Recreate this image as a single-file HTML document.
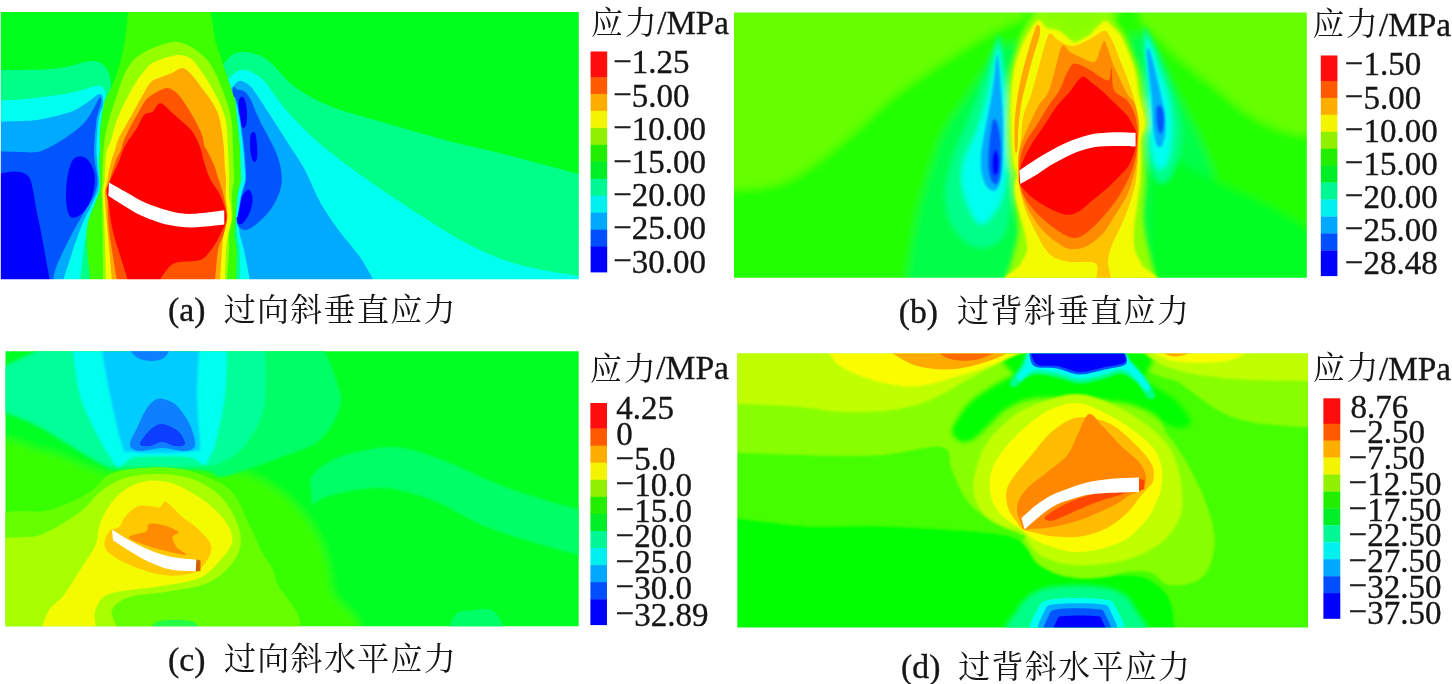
<!DOCTYPE html>
<html><head><meta charset="utf-8"><title>fig</title>
<style>
html,body{margin:0;padding:0;background:#fff;}
body{width:1452px;height:684px;overflow:hidden;position:relative;font-family:"Liberation Serif",serif;}
svg{position:absolute;left:0;top:0;display:block}
text{font-family:"Liberation Serif",serif;fill:#141414;stroke:#141414;stroke-width:0.35px}
text.cjk{font-family:"Liberation Serif","Noto Serif CJK SC",serif;stroke:none}
</style></head><body>
<svg width="1452" height="684" viewBox="0 0 1452 684">
<defs>
<filter id="b1" x="-5%" y="-5%" width="110%" height="110%"><feGaussianBlur stdDeviation="0.7"/></filter>
<filter id="b15" x="-20%" y="-20%" width="140%" height="140%"><feGaussianBlur stdDeviation="1.3"/></filter>
<filter id="b2" x="-20%" y="-20%" width="140%" height="140%"><feGaussianBlur stdDeviation="2.5"/></filter>
<filter id="b3" x="-20%" y="-20%" width="140%" height="140%"><feGaussianBlur stdDeviation="4"/></filter>
<filter id="b4" x="-30%" y="-30%" width="160%" height="160%"><feGaussianBlur stdDeviation="7"/></filter>
<filter id="bt" x="-5%" y="-5%" width="110%" height="110%"><feGaussianBlur stdDeviation="0.45"/></filter>
<clipPath id="cpa"><rect x="0.8" y="12.1" width="578.0" height="267.2"/></clipPath>
<clipPath id="cpb"><rect x="734.0" y="12.4" width="572.8" height="265.4"/></clipPath>
<clipPath id="cpc"><rect x="5.5" y="351.2" width="573.2" height="275.0"/></clipPath>
<clipPath id="cpd"><rect x="737.3" y="353.6" width="570.7" height="274.0"/></clipPath>
</defs>
<g clip-path="url(#cpa)"><g filter="url(#b1)"><rect x="-10" y="0" width="600" height="300" fill="#00ff1e"/>
<path fill="#00ff88" d="M222,66C223.7,64.2 228.7,57.3 232,55C235.3,52.7 238.2,52.2 242,52C245.8,51.8 250.3,52.3 255,54C259.7,55.7 263.3,56.5 270,62C276.7,67.5 284.7,79.5 295,87C305.3,94.5 317.5,101.2 332,107C346.5,112.8 363.2,116.5 382,122C400.8,127.5 426.2,135 445,140C463.8,145 478.3,147.8 495,152C511.7,156.2 529.2,160.8 545,165C560.8,169.2 582.5,175 590,177L600,281L222,281Z"/>
<path fill="#00fff0" d="M226,82C227.7,80.3 232.8,74 236,72C239.2,70 241.8,69.7 245,70C248.2,70.3 251.7,72 255,74C258.3,76 260.5,76.8 265,82C269.5,87.2 276.2,97.8 282,105C287.8,112.2 292.8,117.8 300,125C307.2,132.2 314.2,139.2 325,148C335.8,156.8 349.2,166.8 365,178C380.8,189.2 402.5,203.8 420,215C437.5,226.2 453.3,236.7 470,245C486.7,253.3 500,259.5 520,265C540,270.5 578.3,275.8 590,278L600,281L226,281Z"/>
<path fill="#00aaff" d="M229,92C230.2,90.5 233.8,84.8 236,83C238.2,81.2 239.7,80.5 242,81C244.3,81.5 247.5,83.7 250,86C252.5,88.3 253.7,90.2 257,95C260.3,99.8 264.8,107 270,115C275.2,123 282.2,133.8 288,143C293.8,152.2 299.7,160.2 305,170C310.3,179.8 314.2,191.7 320,202C325.8,212.3 333.3,222.8 340,232C346.7,241.2 354.3,248.8 360,257C365.7,265.2 371.7,277 374,281L250,281L247,265L244,250L239.8,235L237.4,217L229,217Z"/>
<path fill="#0055ff" d="M232,97C233,78.7 235.8,90.8 238,90C240.2,89.2 242.8,90.3 245,92C247.2,93.7 249.3,97 251,100C252.7,103 253.2,105.8 255,110C256.8,114.2 259.5,120 262,125C264.5,130 267.5,135 270,140C272.5,145 275.2,150 277,155C278.8,160 280.3,164.7 281,170C281.7,175.3 282.3,181 281,187C279.7,193 276.3,200.5 273,206C269.7,211.5 265,216.2 261,220C257,223.8 252.5,227.7 249,229C245.5,230.3 242.5,230.3 240,228C237.5,225.7 235.3,219.7 234,215C232.7,210.3 232.3,219.7 232,200C231.7,180.3 231,115.3 232,97Z"/>
<path fill="#0000ff" d="M239,100C239.7,97 241.8,96.3 243,97C244.2,97.7 245.3,100.5 246,104C246.7,107.5 247.2,114.2 247,118C246.8,121.8 246,125.7 245,127C244,128.3 242,128 241,126C240,124 239.3,119.3 239,115C238.7,110.7 238.3,103 239,100Z"/>
<path fill="#0000ff" d="M251,134C251.8,132.3 254,131.2 255,133C256,134.8 256.7,140.8 257,145C257.3,149.2 257.5,155.2 257,158C256.5,160.8 255,162.5 254,162C253,161.5 251.7,158.2 251,155C250.3,151.8 250,146.5 250,143C250,139.5 250.2,135.7 251,134Z"/>
<path fill="#0000ff" d="M247.5,190C249.2,189.2 250.7,191 251.5,193C252.3,195 252.9,198.5 252.5,202C252.1,205.5 250.6,210.5 249,214C247.4,217.5 244.8,221.5 243,223C241.2,224.5 239,224.8 238,223C237,221.2 236.7,216.2 237.2,212C237.7,207.8 239.3,201.7 241,198C242.7,194.3 245.8,190.8 247.5,190Z"/>
<path fill="#00ff88" d="M-10,70C-4.2,70 15,70.2 25,70C35,69.8 42.5,69.7 50,69C57.5,68.3 64.2,67.2 70,66C75.8,64.8 80.8,62.8 85,62C89.2,61.2 92.2,60.7 95,61C97.8,61.3 99.8,62.3 102,64C104.2,65.7 106.5,67.5 108,71C109.5,74.5 110.3,76.8 111,85C111.7,93.2 112.2,102.8 112,120C111.8,137.2 111.8,169.7 110,188C108.2,206.3 103.8,214.5 101,230C98.2,245.5 94.3,272.5 93,281L-10,281Z"/>
<path fill="#00fff0" d="M-10,101C-4.2,100.7 15,99.8 25,99C35,98.2 42.5,97 50,96C57.5,95 64.7,94 70,93C75.3,92 77.8,91.2 82,90C86.2,88.8 91.8,86.7 95,86C98.2,85.3 99.3,85.2 101,86C102.7,86.8 104.2,88.7 105,91C105.8,93.3 106.5,95.7 106,100C105.5,104.3 103,111.2 102,117C101,122.8 100.3,129.5 100,135C99.7,140.5 100.1,145.8 100,150C99.9,154.2 99.5,155 99.5,160C99.5,165 99.9,175 100,180C100.1,185 100.6,186.7 100,190C99.4,193.3 98.6,193.3 96.4,200C94.2,206.7 89.5,216.5 86.8,230C84.1,243.5 81.1,272.5 80,281L-10,281Z"/>
<path fill="#00aaff" d="M-10,122C-5,121.8 12.2,121.3 20,121C27.8,120.7 30.3,121 37,120C43.7,119 53.7,116.7 60,115C66.3,113.3 70.3,112.2 75,110C79.7,107.8 84.3,104.5 88,102C91.7,99.5 94.7,96.2 97,95C99.3,93.8 101,93.3 102,95C103,96.7 103.5,101.3 103,105C102.5,108.7 100,112 99,117C98,122 97.4,129.5 97,135C96.6,140.5 96.5,145.8 96.5,150C96.5,154.2 96.6,155 97,160C97.4,165 98.6,175 98.8,180C99,185 98.8,186.7 98,190C97.2,193.3 97,193.3 94,200C91,206.7 85.2,216.5 80,230C74.8,243.5 65.8,272.5 63,281L-10,281Z"/>
<path fill="#0055ff" d="M-10,151C-5,151.2 12.2,151.8 20,152C27.8,152.2 32,152.8 37,152C42,151.2 45.8,149 50,147C54.2,145 57.8,142.7 62,140C66.2,137.3 71.2,134 75,131C78.8,128 81.8,125.8 85,122C88.2,118.2 91.5,112.2 94,108C96.5,103.8 98.8,97.8 100,97C101.2,96.2 101.5,99.7 101,103C100.5,106.3 98,111.7 97,117C96,122.3 95.5,129.5 95,135C94.5,140.5 94.1,145.8 94,150C93.9,154.2 94.2,156.3 94.6,160C95,163.7 96,168.7 96.5,172C97,175.3 97.6,177 97.5,180C97.4,183 97,186.7 96,190C95,193.3 95.4,193.3 91.7,200C88,206.7 79.8,219.2 74,230C68.2,240.8 60.5,256.5 57,265C53.5,273.5 53.7,278.3 53,281L-10,281Z"/>
<path fill="#0000ff" d="M-10,176C-7,175.3 3,172.7 8,172C13,171.3 16.5,171.2 20,172C23.5,172.8 26.8,174 29,177C31.2,180 31.8,184.8 33,190C34.2,195.2 34.8,201.8 36,208C37.2,214.2 38.7,220.3 40,227C41.3,233.7 42.8,241.7 44,248C45.2,254.3 46,259.5 47,265C48,270.5 49.5,278.3 50,281L-10,281Z"/>
<path fill="#0000ff" d="M71.6,162C73.5,158.1 75.9,156.7 78.6,156.4C81.3,156.1 85.4,157.4 88,160C90.6,162.6 92.9,167.8 94,172C95.1,176.2 95.2,180 94.5,185C93.8,190 92.4,197 90,202C87.6,207 83.3,212.6 80,215C76.7,217.4 72.7,218.7 70.4,216.7C68.1,214.7 66.9,209.1 66.3,203C65.7,196.9 66.1,186.8 67,180C67.9,173.2 69.7,165.9 71.6,162Z"/>
<path fill="#00aaff" d="M235,97C235.4,98.2 236.8,101.5 237.5,104C238.2,106.5 238.4,108.8 239,112C239.6,115.2 240.2,117.2 241,123C241.8,128.8 243.2,140 244,147C244.8,154 245.2,159.5 245.5,165C245.8,170.5 246.6,175 246,180C245.4,185 243.4,188.8 242,195C240.6,201.2 238.5,213.3 237.8,217L230,217L230,97Z"/>
<path fill="#00fff0" d="M234,97C234.4,98.2 235.8,101.5 236.5,104C237.2,106.5 237.4,108.8 238,112C238.6,115.2 239.2,117.2 240,123C240.8,128.8 242.2,140 243,147C243.8,154 244.2,159.5 244.5,165C244.8,170.5 245.6,175 245,180C244.4,185 242.3,188.8 241,195C239.7,201.2 238,213.3 237.4,217L230,217L230,97Z"/>
<path fill="#00ff88" d="M236.5,217C236.6,220 236.7,229.5 237.2,235C237.7,240.5 239,245 239.5,250C240,255 239.9,259.8 240,265C240.1,270.2 240,278.3 240,281L230,281L230,217Z"/>
<path fill="#00ff88" d="M110,188C108.5,195 103.8,214.5 101,230C98.2,245.5 94.3,272.5 93,281L120,281L120,188Z"/>
<path fill="#3cff00" d="M129,0C128.3,6.7 126.8,28.3 125,40C123.2,51.7 120.5,61.7 118,70C115.5,78.3 112.2,85 110,90C107.8,95 106.4,95.5 105,100C103.6,104.5 102.5,111.2 101.7,117C100.9,122.8 100.3,129.5 100,135C99.7,140.5 100.1,145.8 100,150C99.9,154.2 99.3,155 99.3,160C99.3,165 99.8,175 99.9,180C100,185 100.3,186.7 99.7,190C99.1,193.3 98.6,193.3 96.4,200C94.2,206.7 87.9,216.5 86.8,230C85.7,243.5 89.5,272.5 90,281L236,281L236.6,250L234.5,235L235.7,217L237.4,195L241,180L240.5,165L240,147L237.5,123L235,100L225,70L215,40L209,0Z"/>
<path fill="#94ff00" d="M227,281C227.3,275.8 228.7,257.7 229,250C229.3,242.3 228.4,240.5 229,235C229.6,229.5 232,223.7 232.5,217C233,210.3 231.8,201.2 232,195C232.2,188.8 233.8,185 234,180C234.2,175 233.7,170.5 233.5,165C233.3,159.5 233.2,153.6 233,147C232.8,140.4 232.6,131.8 232,125.6C231.4,119.4 230.7,115.5 229.3,110C227.9,104.5 225.6,98.6 223.5,92.8C221.4,87 218.9,80.1 216.5,75C214.1,69.9 211.6,65.5 209,62C206.4,58.5 204.2,56.7 201,54C197.8,51.3 193.8,48 189.5,46C185.2,44 181.2,41.5 175.5,41.7C169.8,41.9 160.9,44.8 155,47C149.1,49.2 144,52.3 140,55C136,57.7 133.8,59.2 131,63C128.2,66.8 125.3,72.3 123,77.6C120.7,82.9 119,89.2 117,95C115,100.8 112.8,106.9 111,112.7C109.2,118.5 107.5,125.5 106.4,130C105.3,134.6 105,136.7 104.5,140C104,143.3 103.8,146.7 103.5,150C103.2,153.3 103.2,156.3 103,160C102.8,163.7 102.6,168.7 102.5,172C102.4,175.3 102.4,177 102.2,180C102,183 101.5,186.7 101.5,190C101.5,193.3 101.8,193.3 102,200C102.2,206.7 102.3,216.5 102.5,230C102.7,243.5 102.9,272.5 103,281Z"/>
<path fill="#f4fa00" d="M225,281C225.2,275.8 225.5,257.7 226,250C226.5,242.3 227.1,240.5 228,235C228.9,229.5 231.4,223.7 231.6,217C231.8,210.3 229.6,201.2 229.2,195C228.8,188.8 229.4,185 229.3,180C229.2,175 229,170.5 228.8,165C228.6,159.5 228.4,153.6 228,147C227.6,140.4 227.2,131.3 226.5,125.6C225.8,119.9 225,117.2 223.5,112.7C222,108.2 219.9,103.5 217.6,98.6C215.2,93.7 212.3,88.3 209.4,83.4C206.5,78.5 202.7,73.2 200,69.4C197.3,65.6 195.2,62.6 193,60.5C190.8,58.4 189.5,57.4 187,56.5C184.5,55.6 181.5,54.8 178,55C174.5,55.2 169.7,56.4 166,57.5C162.3,58.6 158.5,60.1 155.6,61.5C152.7,62.9 151.6,62.8 148.5,66C145.4,69.2 140.1,76.2 136.8,81C133.5,85.8 131.1,90.3 128.6,95C126.1,99.7 123.7,104.3 121.6,109C119.5,113.7 117.6,117.8 115.8,123C114,128.2 112.5,135.5 111,140C109.5,144.5 107.9,146.7 107,150C106.1,153.3 106.1,156.3 105.7,160C105.3,163.7 105,168.7 104.8,172C104.6,175.3 104.8,177 104.5,180C104.2,183 103.2,186.7 103,190C102.8,193.3 102.8,193.3 103,200C103.2,206.7 104,216.5 104.5,230C105,243.5 105.8,272.5 106,281Z"/>
<path fill="#ffaa00" d="M220,281C220.3,275.8 221.4,257.7 222,250C222.6,242.3 222.5,240.5 223.4,235C224.3,229.5 227.1,223.7 227.5,217C227.9,210.3 225.9,201.2 225.7,195C225.4,188.8 226.2,185 226,180C225.8,175 225.1,170.5 224.7,165C224.3,159.5 224.4,153.6 223.8,147C223.2,140.4 222,131.3 221,125.6C220,119.9 219.3,117 217.6,112.7C215.9,108.4 213.4,104.1 210.6,99.8C207.8,95.5 204.1,91.1 201,87C197.9,82.9 195.1,78.2 192,75C188.9,71.8 185.8,68.3 182.5,68C179.2,67.7 175.8,71.4 172,73C168.2,74.6 163.5,76.1 160,77.6C156.5,79.1 153.9,79.1 151,82C148.1,84.9 145.4,90.3 142.7,95C139.9,99.7 137.4,104.7 134.5,110C131.6,115.3 127.8,121.7 125,126.7C122.2,131.7 119.7,136.1 118,140C116.3,143.9 116.1,146.7 115,150C113.9,153.3 112.6,156.3 111.6,160C110.5,163.7 109.4,168.7 108.7,172C108,175.3 108.1,177 107.5,180C106.9,183 105.4,186.7 105,190C104.6,193.3 104.6,193.3 105,200C105.4,206.7 106.3,216.5 107.5,230C108.7,243.5 111.2,272.5 112,281Z"/>
<path fill="#ff5500" d="M215,281C215.5,275.8 216.6,257.7 218,250C219.4,242.3 221.9,240.5 223.4,235C224.9,229.5 227,223.7 227,217C227,210.3 224.8,201.2 223.4,195C222,188.8 220.4,185 218.8,180C217.2,175 216.2,170.5 214,165C211.8,159.5 207.3,151.5 205.5,147C203.7,142.5 203.9,140.8 203,138C202.1,135.2 201.5,133.2 200,130C198.5,126.8 196.2,122.4 194,118.5C191.8,114.6 189.7,110.9 187,106.8C184.3,102.7 181.1,97.1 177.8,94C174.5,90.9 171,88.2 167.3,88C163.6,87.8 159.2,90.8 155.6,92.8C152,94.8 148.8,96.7 146,99.8C143.2,102.9 141.5,107.2 139,111.5C136.5,115.8 133.5,120.8 131,125.6C128.5,130.3 125.7,135.9 124,140C122.3,144.1 122.3,146.7 121,150C119.7,153.3 117.5,156.3 116,160C114.5,163.7 113,168.7 112,172C111,175.3 110.8,177 109.8,180C108.8,183 106.4,186.7 106,190C105.6,193.3 107,193.3 107.5,200C108,206.7 107.4,216.5 109,230C110.6,243.5 115.7,272.5 117,281Z"/>
<path fill="#ff0000" d="M160,281C160.5,280 160.5,278 163,275C165.5,272 168.8,265.5 175,263C181.2,260.5 194,262.2 200,260C206,257.8 207.7,254.2 211,250C214.3,245.8 217.4,240.5 220,235C222.6,229.5 226.5,223.7 226.5,217C226.5,210.3 222.7,201.2 220,195C217.3,188.8 213.1,185 210.6,180C208.1,175 206.8,170.5 205,165C203.2,159.5 202,152.4 200,147C198,141.6 195.7,136.6 193,132.6C190.3,128.6 187.2,126.3 183.7,123C180.2,119.7 175.9,116 172,112.7C168.1,109.4 163.5,103.5 160.3,103.3C157.1,103.1 155.7,109.5 153,111.5C150.3,113.5 146.7,112.2 144,115C141.3,117.8 139.6,123.8 137,128C134.4,132.2 130.9,136.3 128.6,140C126.3,143.7 124.5,146.7 123,150C121.5,153.3 121,156.3 119.5,160C118,163.7 115.5,168.7 114,172C112.5,175.3 111.6,177 110.4,180C109.2,183 107.1,186.7 106.7,190C106.3,193.3 107,193.3 108,200C109,206.7 110.6,220.8 112.6,230C114.6,239.2 117.4,246.5 120,255C122.6,263.5 126.7,276.7 128,281Z"/>
<path fill="#ffaa00" d="M199,108C199.6,107.8 201,108.7 202,112C203,115.3 204.2,122.2 205,128C205.8,133.8 207.1,144 207,147C206.9,150 205.4,149.2 204.5,146C203.6,142.8 202.5,133.5 201.5,128C200.5,122.5 198.9,116.3 198.5,113C198.1,109.7 198.4,108.2 199,108Z"/>
<path fill="#ffffff" d="M109,182.6C112.2,184.4 121.9,190 128,193.3C134.1,196.7 138.7,199.8 145.4,202.7C152.1,205.6 161.4,208.7 168,210.5C174.6,212.3 179.2,213.4 185,213.8C190.8,214.2 196.4,213.6 203,213C209.6,212.4 220.8,210.8 224.3,210.3L224.3,224.5C220.8,224.9 209.6,226.2 203,226.7C196.4,227.2 190.8,227.6 185,227.3C179.2,227 172.7,225.7 168,224.8C163.3,223.9 161.8,223.5 157,221.8C152.2,220.1 145.3,217.7 139.5,214.8C133.7,211.9 127.2,207.7 122,204.5C116.8,201.3 110.6,197.2 108.3,195.7Z"/></g></g>
<g clip-path="url(#cpb)"><g filter="url(#b3)"><rect x="700" y="0" width="640" height="300" fill="#22ff00"/>
<path fill="#66ff00" d="M1033,-5C1031.3,-1.2 1028,12.7 1023,18C1018,23.3 1012.7,22 1003,27C993.3,32 977.5,40.5 965,48C952.5,55.5 940.5,63.5 928,72C915.5,80.5 902.5,88.8 890,99C877.5,109.2 867.5,120.8 853,133C838.5,145.2 817.7,163 803,172C788.3,181 778.8,184.2 765,187C751.2,189.8 727.5,188.7 720,189L720,-5Z"/>
<path fill="#66ff00" d="M1138,-5C1138.7,-0.5 1138.3,14.5 1142,22C1145.7,29.5 1154.5,34.5 1160,40C1165.5,45.5 1166.3,47.5 1175,55C1183.7,62.5 1199.5,75 1212,85C1224.5,95 1237.5,107.2 1250,115C1262.5,122.8 1275.3,128.5 1287,132C1298.7,135.5 1314.5,135.3 1320,136L1320,-5Z"/>
<path fill="#88ff00" d="M1030,-5C1031.7,0 1035,18.3 1040,25C1045,31.7 1054.2,31.7 1060,35C1065.8,38.3 1069.2,45 1075,45C1080.8,45 1089.2,38.8 1095,35C1100.8,31.2 1105,28.7 1110,22C1115,15.3 1122.5,-0.5 1125,-5Z"/>
<path fill="#00ff48" d="M1002,45C999.2,49.2 991.2,60.8 985,70C978.8,79.2 971.7,90 965,100C958.3,110 950.5,119.2 945,130C939.5,140.8 936.5,150.8 932,165C927.5,179.2 922.5,194.2 918,215C913.5,235.8 907.2,277.5 905,290L1030,290L1030,45Z"/>
<path fill="#00ff48" d="M1142,35C1145,39.2 1153.7,49.2 1160,60C1166.3,70.8 1173.3,86.7 1180,100C1186.7,113.3 1194.2,126.7 1200,140C1205.8,153.3 1210.8,166.7 1215,180C1219.2,193.3 1222.8,201.7 1225,220C1227.2,238.3 1227.5,278.3 1228,290L1130,290L1130,35Z"/>
<path fill="#06ff22" d="M1150,140C1154.3,143.3 1162.8,152.2 1176,160C1189.2,167.8 1213.7,179.5 1229,187C1244.3,194.5 1252.8,197 1268,205C1283.2,213 1311.3,230 1320,235L1320,290L1150,290Z"/></g><g filter="url(#b2)"><path fill="#00ff88" d="M999,35C996.3,36.7 991.5,57.5 987,70C982.5,82.5 977.3,96.7 972,110C966.7,123.3 959.5,136.7 955,150C950.5,163.3 945.8,178 945,190C944.2,202 946.7,213.3 950,222C953.3,230.7 959.2,237.7 965,242C970.8,246.3 978.5,249.2 985,248C991.5,246.8 999.7,243 1004,235C1008.3,227 1010,214.2 1011,200C1012,185.8 1010.5,166.7 1010,150C1009.5,133.3 1009.2,115 1008,100C1006.8,85 1004.5,70.8 1003,60C1001.5,49.2 1001.7,33.3 999,35Z"/>
<path fill="#00ff88" d="M1144,28C1142.8,33 1144.7,58 1145,70C1145.3,82 1145.8,89.2 1146,100C1146.2,110.8 1145.5,124.2 1146,135C1146.5,145.8 1146.7,156.8 1149,165C1151.3,173.2 1155.8,182.8 1160,184C1164.2,185.2 1170.3,180.2 1174,172C1177.7,163.8 1181.7,147 1182,135C1182.3,123 1179,111.2 1176,100C1173,88.8 1168,78 1164,68C1160,58 1155.3,46.7 1152,40C1148.7,33.3 1145.2,23 1144,28Z"/>
<path fill="#00fff0" d="M998,45C996.5,48.3 994.2,65 992,75C989.8,85 987.8,95 985,105C982.2,115 978.5,125.8 975,135C971.5,144.2 966.2,151.7 964,160C961.8,168.3 961,176.7 962,185C963,193.3 967,203.5 970,210C973,216.5 976.3,223 980,224C983.7,225 988.2,220.8 992,216C995.8,211.2 1000.5,204.3 1003,195C1005.5,185.7 1006.3,172.5 1007,160C1007.7,147.5 1007.5,133.3 1007,120C1006.5,106.7 1005,90.8 1004,80C1003,69.2 1002,60.8 1001,55C1000,49.2 999.5,41.7 998,45Z"/>
<path fill="#00fff0" d="M1145,38C1144.3,42.2 1146.3,59.7 1147,70C1147.7,80.3 1148.5,90 1149,100C1149.5,110 1149.5,120.8 1150,130C1150.5,139.2 1150.3,148.3 1152,155C1153.7,161.7 1157.2,169.5 1160,170C1162.8,170.5 1167,164.7 1169,158C1171,151.3 1172,139.7 1172,130C1172,120.3 1171,109.7 1169,100C1167,90.3 1163,81.2 1160,72C1157,62.8 1153.5,50.7 1151,45C1148.5,39.3 1145.7,33.8 1145,38Z"/>
<path fill="#94ff00" d="M1002,290C1003.8,284.2 1010.3,265 1013,255C1015.7,245 1017.8,239.2 1018,230C1018.2,220.8 1015,208.8 1014,200C1013,191.2 1013,183.7 1012,177C1011,170.3 1009,167.8 1008,160C1007,152.2 1006.2,140 1006,130C1005.8,120 1006.3,110 1007,100C1007.7,90 1008.2,79.7 1010,70C1011.8,60.3 1015,50 1018,42C1021,34 1024.7,26.7 1028,22C1031.3,17.3 1034.3,14.3 1038,14C1041.7,13.7 1046.3,18.2 1050,20C1053.7,21.8 1055.8,22.3 1060,25C1064.2,27.7 1070,35.5 1075,36C1080,36.5 1085,31.7 1090,28C1095,24.3 1099.7,13.7 1105,14C1110.3,14.3 1117.3,23.5 1122,30C1126.7,36.5 1130,46 1133,53C1136,60 1138.2,65 1140,72C1141.8,79 1142.7,88.7 1144,95C1145.3,101.3 1147.1,105 1148,110C1148.9,115 1150,120 1149.5,125C1149,130 1145.6,130.8 1145,140C1144.4,149.2 1146.2,166.7 1146,180C1145.8,193.3 1143.3,207.5 1144,220C1144.7,232.5 1147.3,243.3 1150,255C1152.7,266.7 1158.3,284.2 1160,290Z"/></g><g filter="url(#b15)"><path fill="#00aaff" d="M997,55C996.2,57.5 995.2,71.7 994,80C992.8,88.3 991.5,96.7 990,105C988.5,113.3 986.5,121.7 985,130C983.5,138.3 981.5,147.5 981,155C980.5,162.5 980.8,169.5 982,175C983.2,180.5 985.7,185.5 988,188C990.3,190.5 993.8,191.7 996,190C998.2,188.3 999.8,184.7 1001,178C1002.2,171.3 1002.7,159.7 1003,150C1003.3,140.3 1003.3,130 1003,120C1002.7,110 1001.7,99.2 1001,90C1000.3,80.8 999.7,70.8 999,65C998.3,59.2 997.8,52.5 997,55Z"/>
<path fill="#0055ff" d="M993,120C991.5,123.3 989.8,137.5 989,145C988.2,152.5 987.7,159.2 988,165C988.3,170.8 989.5,176.8 991,180C992.5,183.2 995.3,185.7 997,184C998.7,182.3 1000.3,176.5 1001,170C1001.7,163.5 1001.5,152.5 1001,145C1000.5,137.5 999.3,129.2 998,125C996.7,120.8 994.5,116.7 993,120Z"/>
<path fill="#0000ff" d="M995,150C993.8,150.7 992.2,157.8 992,162C991.8,166.2 993,173.3 994,175C995,176.7 997.2,174.8 998,172C998.8,169.2 999.5,161.7 999,158C998.5,154.3 996.2,149.3 995,150Z"/>
<path fill="#00aaff" d="M1147,50C1146.8,53.8 1148.2,66.7 1149,75C1149.8,83.3 1151.3,91.7 1152,100C1152.7,108.3 1152.3,117.8 1153,125C1153.7,132.2 1154.7,139.3 1156,143C1157.3,146.7 1159.5,148.3 1161,147C1162.5,145.7 1164.3,140.3 1165,135C1165.7,129.7 1165.7,121.7 1165,115C1164.3,108.3 1162.7,102.5 1161,95C1159.3,87.5 1156.8,77.2 1155,70C1153.2,62.8 1151.3,55.3 1150,52C1148.7,48.7 1147.2,46.2 1147,50Z"/>
<path fill="#0055ff" d="M1156.6,108C1155.9,111.2 1156.4,120.7 1157,125C1157.6,129.3 1158.9,133.5 1160,134C1161.1,134.5 1162.8,131.2 1163.5,128C1164.2,124.8 1164.4,118.7 1164,115C1163.6,111.3 1162.2,107.2 1161,106C1159.8,104.8 1157.3,104.8 1156.6,108Z"/>
<path fill="#f4fa00" d="M1017,175C1016.7,171.2 1014,167.5 1013,160C1012,152.5 1011.3,140 1011,130C1010.7,120 1010.5,110 1011,100C1011.5,90 1012.2,79.2 1014,70C1015.8,60.8 1019.3,51.7 1022,45C1024.7,38.3 1027.2,34.2 1030,30C1032.8,25.8 1036.3,21 1038.5,20C1040.7,19 1041.6,22.7 1043,24C1044.4,25.3 1045.5,27.2 1047,28C1048.5,28.8 1049.9,28.5 1052,29C1054.1,29.5 1057.1,29.7 1059.6,31C1062.1,32.3 1064.5,35.1 1067,37C1069.5,38.9 1072,42 1074.5,42.3C1077,42.6 1079.5,40.2 1082,39C1084.5,37.8 1087,37 1089.5,35C1092,33 1094.3,29.3 1097,27C1099.7,24.7 1102.9,21 1105.6,21C1108.3,21 1110.5,24.7 1113,27C1115.5,29.3 1117.8,30.6 1120.5,35C1123.2,39.4 1126.5,47.3 1129,53.5C1131.5,59.7 1133.8,65.1 1135.5,72C1137.2,78.9 1137.8,88.7 1139,95C1140.2,101.3 1141.9,105 1143,110C1144.1,115 1145.7,120 1145.4,125C1145.1,130 1141.7,134.2 1141,140C1140.3,145.8 1141.2,152.8 1141,160C1140.8,167.2 1140.7,175.3 1140,183C1139.3,190.7 1138,198.2 1137,206C1136,213.8 1134.3,222.7 1134,230C1133.7,237.3 1133.7,244.2 1135,250C1136.3,255.8 1139.5,259.3 1142,265C1144.5,270.7 1171.7,280.8 1150,284C1128.3,287.2 1033.7,287.2 1012,284C990.3,280.8 1017.5,270.7 1020,265C1022.5,259.3 1026.3,255.8 1027,250C1027.7,244.2 1025.2,235.9 1024,230C1022.8,224.1 1021.3,220.5 1019.8,214.7C1018.3,208.9 1015.8,200.3 1015,195C1014.2,189.7 1014.7,186.3 1015,183C1015.3,179.7 1017.3,178.8 1017,175Z"/></g><g filter="url(#b1)"><path fill="#ffaa00" d="M1037,25C1035.8,26.2 1034.7,30 1033,35C1031.3,40 1029,47.8 1027,55C1025,62.2 1022.7,70.5 1021,78C1019.3,85.5 1018.1,92.2 1017,100C1015.9,107.8 1014.8,116.7 1014.5,125C1014.2,133.3 1014.5,145.8 1015,150C1015.5,154.2 1016.9,154.2 1017.5,150C1018.1,145.8 1017.9,133.3 1018.6,125C1019.4,116.7 1020.6,107.5 1022,100C1023.4,92.5 1025.2,87.2 1027,80C1028.8,72.8 1031,64 1033,57C1035,50 1037.8,42.8 1039,38C1040.2,33.2 1040.3,30.2 1040,28C1039.7,25.8 1038.2,23.8 1037,25Z"/>
<path fill="#ffc400" d="M1018.3,172C1018.3,167.3 1018.5,160.8 1019,155C1019.5,149.2 1020.2,143.7 1021,137C1021.8,130.3 1021.9,122 1023.6,115C1025.3,108 1028.6,102.5 1031,95C1033.4,87.5 1035.8,77.8 1038,70C1040.2,62.2 1042,54.1 1044,48C1046,41.9 1047.4,34.9 1049.7,33.6C1052,32.3 1054.3,37.9 1058,40C1061.7,42.1 1067,46 1072,46C1077,46 1083.7,42 1088,40C1092.3,38 1095.1,35.5 1098,34C1100.9,32.5 1103.1,29.7 1105.6,31C1108.1,32.3 1110.6,37.2 1113,42C1115.4,46.8 1117.8,54.5 1120,60C1122.2,65.5 1123.8,69.2 1126,75C1128.2,80.8 1131.2,89.2 1133,95C1134.8,100.8 1135.9,105 1137,110C1138.1,115 1139.2,120 1139.5,125C1139.8,130 1138.8,134.2 1138.5,140C1138.2,145.8 1138.5,152.7 1138,160C1137.5,167.3 1136.9,175.9 1135.4,183.6C1133.9,191.3 1131.5,198.8 1129,206C1126.5,213.2 1123.3,220.5 1120.5,227C1117.7,233.5 1114.1,239.2 1112,245C1109.9,250.8 1108.2,255.5 1108,262C1107.8,268.5 1112.8,280.3 1111,284C1109.2,287.7 1099.3,287.2 1097,284C1094.7,280.8 1099,268.7 1097,265C1095,261.3 1089.5,262.5 1085,262C1080.5,261.5 1075,262.7 1070,262C1065,261.3 1059,260 1055,258C1051,256 1048.5,253.1 1046,250C1043.5,246.9 1042.8,245.5 1039.7,239.6C1036.6,233.7 1030.4,222.1 1027.3,214.7C1024.2,207.3 1022.4,200.3 1021,195C1019.6,189.7 1019.5,186.8 1019,183C1018.5,179.2 1018.3,176.7 1018.3,172Z"/>
<path fill="#ff8c00" d="M1018.5,174C1018.4,168.9 1017.8,160.8 1018.6,154.6C1019.5,148.4 1021.5,142.6 1023.6,137C1025.7,131.4 1028.4,126.3 1031,121C1033.6,115.7 1036.1,109.8 1039,105C1041.9,100.2 1045.7,97.8 1048.4,92C1051.1,86.2 1052.7,77.7 1055,70C1057.3,62.3 1059.5,49 1062,46C1064.5,43 1067,50.2 1070,52C1073,53.8 1075.9,55.3 1080,57C1084.1,58.7 1091.1,63.2 1094.4,62C1097.7,60.8 1098.3,53.5 1100,50C1101.7,46.5 1102.7,40.2 1104.4,41C1106.1,41.8 1108.4,50.8 1110,55C1111.6,59.2 1111.2,59.7 1114,66C1116.8,72.3 1123.4,86.9 1126.7,93C1130,99.1 1132,97.7 1134,102.4C1136,107.1 1137.8,114.7 1138.5,121C1139.2,127.3 1138.2,133.5 1138,140C1137.8,146.5 1137.7,154.2 1137,160C1136.3,165.8 1135.7,169 1134,175C1132.3,181 1130,189 1126.7,196C1123.4,203 1118.1,210.6 1114,217C1109.9,223.4 1106.8,229.6 1102,234.6C1097.2,239.6 1090.3,244.6 1085,247C1079.7,249.4 1073.8,249.2 1070,249C1066.2,248.8 1065.4,247.8 1062,245.8C1058.6,243.8 1053.9,240.7 1049.7,237C1045.5,233.3 1041.2,229.2 1037,223.4C1032.8,217.6 1027.7,208.7 1024.8,202.3C1021.9,195.9 1020.5,189.7 1019.5,185C1018.5,180.3 1018.6,179.1 1018.5,174Z"/>
<path fill="#ff4800" d="M1019,173C1018.8,166.7 1019.7,160.2 1021,154.6C1022.3,149 1024.3,144.7 1027,139.7C1029.7,134.7 1033.4,130.4 1037,124.8C1040.6,119.2 1044.6,111.8 1048.4,106C1052.2,100.2 1056.5,95.5 1059.6,90C1062.7,84.5 1064.5,77.4 1067,73C1069.5,68.6 1070.8,64 1074.5,63.5C1078.2,63 1084.9,67.3 1089.5,69.7C1094.1,72.1 1098.8,76.3 1102,78C1105.2,79.7 1107.4,81.6 1109,80C1110.6,78.4 1111,66.7 1111.8,68.4C1112.6,70.1 1111.5,84.7 1114,90C1116.5,95.3 1123.4,96.3 1126.7,100C1130,103.7 1132.2,107.9 1134,112.4C1135.8,117 1136.7,122.7 1137.3,127.3C1137.9,131.9 1137.7,135.4 1137.5,140C1137.3,144.6 1137,149.8 1136,155C1135,160.2 1133.7,165.6 1131.7,171C1129.7,176.4 1127.3,181.6 1124,187.4C1120.7,193.2 1116.7,199.8 1112,206C1107.3,212.2 1101.1,219.5 1095.7,224.7C1090.3,229.9 1084.3,235.1 1079.5,237C1074.7,238.9 1072,238 1067,235.9C1062,233.8 1055.3,229 1049.7,224.7C1044.1,220.3 1038.1,215.2 1033.5,209.8C1028.9,204.4 1024.7,198.4 1022.3,192.3C1019.9,186.2 1019.2,179.3 1019,173Z"/>
<path fill="#ff0000" d="M1019.8,171C1020.5,167.6 1021.6,164.2 1023.6,159.6C1025.6,155 1028.5,149.3 1032,143.5C1035.5,137.7 1040.5,131.1 1044.7,124.8C1048.9,118.5 1052.8,111.5 1057,106C1061.2,100.5 1065.4,96.8 1069.6,92C1073.8,87.2 1078.3,78.5 1082,77C1085.7,75.5 1088.7,80.7 1092,83C1095.3,85.3 1098.3,87.8 1102,91C1105.7,94.2 1109.9,98.4 1114,102.4C1118.1,106.4 1123.4,110.8 1126.7,114.9C1130,119.1 1132.5,124.3 1134,127.3C1135.5,130.3 1135.6,130.9 1136,133C1136.4,135.1 1136.7,137.2 1136.5,140C1136.3,142.8 1136.2,145.8 1135,150C1133.8,154.2 1131.4,160.8 1129,165C1126.6,169.2 1124,171.3 1120.5,175C1117,178.7 1112.6,183.3 1108,187.4C1103.4,191.5 1097.8,195.9 1093,199.8C1088.2,203.7 1083.8,208.5 1079.5,211C1075.2,213.5 1072,215.1 1067,214.7C1062,214.3 1055.3,211.2 1049.7,208.5C1044.1,205.8 1038.3,202.3 1033.5,198.6C1028.7,194.8 1023.3,189.1 1021,186C1018.7,182.9 1019.7,182.5 1019.5,180C1019.3,177.5 1019.1,174.4 1019.8,171Z"/>
<path fill="#ffffff" d="M1019.3,170.5C1022.7,168.2 1032.2,161.5 1039.7,157C1047.2,152.5 1056.3,147.2 1064.6,143.5C1072.9,139.8 1081.2,136.7 1089.5,134.8C1097.8,132.9 1106.6,132.6 1114.3,132.3C1122,132 1132,132.8 1135.6,132.9L1135.6,146.6C1133.1,146.5 1126.5,146 1120.5,146C1114.5,146 1106.7,145.6 1099.4,146.6C1092.2,147.6 1084.9,149 1077,152C1069.1,155 1058.7,160.8 1052,164.6C1045.3,168.3 1042.3,171.3 1037,174.5C1031.7,177.7 1023.1,182.4 1020.3,184Z"/></g></g>
<g clip-path="url(#cpc)"><g filter="url(#b3)"><rect x="-10" y="340" width="600" height="300" fill="#00ff24"/>
<path fill="#38ff00" d="M-10,455C-1.7,423.3 23.3,447.8 40,450C56.7,452.2 76.7,463.8 90,468C103.3,472.2 108.3,475 120,475C131.7,475 145.8,468.8 160,468C174.2,467.2 190,468.8 205,470C220,471.2 235.8,470 250,475C264.2,480 278.3,489.2 290,500C301.7,510.8 313,525 320,540C327,555 329.5,573.3 332,590C334.5,606.7 392,631.7 335,640C278,648.3 47.5,670.8 -10,640C-67.5,609.2 -18.3,486.7 -10,455Z"/></g><g filter="url(#b15)"><path fill="#00ff66" d="M320,340C322.8,347 333.7,370.8 337,382C340.3,393.2 342.8,397.3 340,407C337.2,416.7 329.7,431.7 320,440C310.3,448.3 294.5,452 282,457C269.5,462 255.3,466.7 245,470C234.7,473.3 227.5,477 220,477C212.5,477 216.7,471.2 200,470C183.3,468.8 135.8,470.5 120,470C104.2,469.5 112.5,470.3 105,467C97.5,463.7 86.3,456.7 75,450C63.7,443.3 50.3,433.7 37,427C23.7,420.3 2,412.8 -5,410L-5,366L5,365L25,355L37,350L37,340Z"/>
<path fill="#00ff99" d="M265,340C264.8,351.2 267.3,389.5 264,407C260.7,424.5 252,435.8 245,445C238,454.2 229.5,458.5 222,462C214.5,465.5 217,465.3 200,466C183,466.7 135.8,466.3 120,466C104.2,465.7 112.5,467.2 105,464C97.5,460.8 86.3,453.7 75,447C63.7,440.3 50.3,430.7 37,424C23.7,417.3 2,409.8 -5,407L-5,368L5,367L27,357L40,350L40,340Z"/>
<path fill="#00ff66" d="M310,479C311.7,477.2 314.2,472 320,468C325.8,464 332.5,458.5 345,455C357.5,451.5 378.3,446 395,447C411.7,448 428.3,455 445,461C461.7,467 478.3,476.5 495,483C511.7,489.5 529.2,495.2 545,500C560.8,504.8 582.5,510 590,512L590,558C580.3,555.3 550,547.5 532,542C514,536.5 498.7,532 482,525C465.3,518 448.7,506.2 432,500C415.3,493.8 398.7,488.8 382,488C365.3,487.2 343.7,492.2 332,495C320.3,497.8 315.3,503.3 312,505Z"/>
<path fill="#00fff0" d="M72,340C73.3,349.2 75.3,378.3 80,395C84.7,411.7 94.8,429.5 100,440C105.2,450.5 108,453.5 111,458C114,462.5 115.5,466.3 118,467C120.5,467.7 123.2,463.7 126,462C128.8,460.3 128.5,458 135,457C141.5,456 155.8,456 165,456C174.2,456 184.5,456.2 190,457C195.5,457.8 195.5,459.7 198,461C200.5,462.3 203,465.8 205,465C207,464.2 208.3,459.3 210,456C211.7,452.7 212.5,455.2 215,445C217.5,434.8 223,412.5 225,395C227,377.5 226.7,349.2 227,340Z"/>
<path fill="#00ccff" d="M100,340C101.7,349.2 106.3,377.5 110,395C113.7,412.5 118.7,435.5 122,445C125.3,454.5 122.8,450.7 130,452C137.2,453.3 154,453.2 165,453C176,452.8 190.2,452.3 196,451C201.8,449.7 199.8,454.3 200,445C200.2,435.7 197,412.5 197,395C197,377.5 199.5,349.2 200,340Z"/></g><g filter="url(#b1)"><path fill="#0a80ff" d="M157,399C153.7,400.3 150.3,403.2 147,408C143.7,412.8 139.8,421.8 137,428C134.2,434.2 129.5,441.2 130,445C130.5,448.8 134.7,450.5 140,451C145.3,451.5 154.5,448 162,448C169.5,448 179.5,451.5 185,451C190.5,450.5 194.2,449.3 195,445C195.8,440.7 192.8,431.3 190,425C187.2,418.7 181.8,411.2 178,407C174.2,402.8 170.5,401.3 167,400C163.5,398.7 160.3,397.7 157,399Z"/>
<path fill="#0a3cff" d="M162,424C157.3,423.8 153.7,426.7 150,430C146.3,433.3 140,441.3 140,444C140,446.7 146.3,446.3 150,446C153.7,445.7 157.8,442 162,442C166.2,442 171.2,445.7 175,446C178.8,446.3 184.5,446.5 185,444C185.5,441.5 181.8,434.3 178,431C174.2,427.7 166.7,424.2 162,424Z"/>
<path fill="#0a80ff" d="M132,345C126.7,346.8 132,353.3 135,356C138,358.7 145,360.8 150,361C155,361.2 162.2,359.7 165,357C167.8,354.3 172.5,347 167,345C161.5,343 137.3,343.2 132,345Z"/>
<path fill="#66ff00" d="M-10,525C0,503.3 33.3,515.5 50,510C66.7,504.5 80,498 90,492C100,486 101.7,478 110,474C118.3,470 129.2,469 140,468C150.8,467 164.2,466.7 175,468C185.8,469.3 195.5,472 205,476C214.5,480 224.8,484.3 232,492C239.2,499.7 243,512 248,522C253,532 257.3,542.3 262,552C266.7,561.7 273.2,565.3 276,580C278.8,594.7 326.7,630 279,640C231.3,650 38.2,659.2 -10,640C-58.2,620.8 -20,546.7 -10,525Z"/>
<path fill="#a8ff00" d="M-10,548C-1.7,530.5 25,541 40,535C55,529 70,519.2 80,512C90,504.8 92.5,497.7 100,492C107.5,486.3 115,481 125,478C135,475 148.3,473.7 160,474C171.7,474.3 184.7,476 195,480C205.3,484 214.8,490.5 222,498C229.2,505.5 235,516.7 238,525C241,533.3 241.7,540.8 240,548C238.3,555.2 233.8,562 228,568C222.2,574 215.5,580 205,584C194.5,588 177.5,589.8 165,592C152.5,594.2 138.8,594 130,597C121.2,600 115.7,602.8 112,610C108.3,617.2 128.3,635 108,640C87.7,645 9.7,655.3 -10,640C-29.7,624.7 -18.3,565.5 -10,548Z"/>
<path fill="#00ff66" d="M452,640C444,635.8 451.2,620 455,615C458.8,610 468.3,610.5 475,610C481.7,609.5 490.3,607 495,612C499.7,617 510.2,635.3 503,640C495.8,644.7 460,644.2 452,640Z"/>
<path fill="#22ff44" d="M148,640C140.2,637.2 150.5,626.3 155,623C159.5,619.7 168.3,620 175,620C181.7,620 190.5,619.7 195,623C199.5,626.3 209.8,637.2 202,640C194.2,642.8 155.8,642.8 148,640Z"/>
<path fill="#f4fa00" d="M143,481.7C148.8,480.3 154.1,480.3 160,481C165.9,481.7 170.5,482 178.5,485.7C186.5,489.4 199.8,496.8 208,503.4C216.2,509.9 223.8,518.4 227.8,525C231.8,531.6 233.4,536.7 231.8,543C230.2,549.3 223.6,556.8 218,562.7C212.4,568.6 208.1,574.5 198.2,578.5C188.3,582.5 170.2,584.5 158.7,586.4C147.2,588.3 137.9,588.4 129,590C120,591.6 110.7,592.3 105,596C99.3,599.7 97.2,604.7 95,612C92.8,619.3 100.5,635.3 92,640C83.5,644.7 51.3,644.7 44,640C36.7,635.3 44.7,619.5 48,612C51.3,604.5 58.7,601.9 64,595C69.3,588.1 74.5,578.9 79.7,570.6C85,562.3 92.2,552.6 95.5,545C98.8,537.4 97.2,531.6 99.5,525C101.8,518.4 105.2,511.3 109.4,505.4C113.7,499.5 119.4,493.6 125,489.6C130.6,485.7 137.2,483.1 143,481.7Z"/>
<path fill="#ffc800" d="M164.6,501.5C166.4,501.2 167.6,502.8 170.6,505.4C173.6,508 177.8,513.1 182.4,517C187,520.9 193.6,524.7 198.2,529C202.8,533.3 208,538.7 210,543C212,547.3 212,550.2 210,554.8C208,559.4 203.4,567.1 198.2,570.6C192.9,574.1 185.7,575 178.5,575.5C171.3,576 163.1,575.3 154.8,573.5C146.6,571.7 136.2,567.7 129,564.6C121.8,561.5 115.4,558.1 111.3,554.8C107.2,551.5 104.7,549 104.4,545C104.1,541 107,534 109.4,531C111.8,528 116.4,529.3 119,527C121.6,524.7 122,520.4 125,517C128,513.6 132.8,508.2 137,506.4C141.2,504.6 146.2,505.9 150,506C153.8,506.1 157.6,507.8 160,507C162.4,506.2 162.8,501.8 164.6,501.5Z"/>
<path fill="#ff8c00" d="M148.8,524C151.4,523 157.8,523.7 162.7,525C167.6,526.3 176.9,530 178.5,532C180.1,534 172.8,534.5 172.5,537C172.2,539.5 174.2,543.9 176.5,546.9C178.8,549.9 187.5,553.9 186.4,554.8C185.3,555.6 176.4,553.5 170,552C163.6,550.5 154.8,548.3 148,546C141.2,543.7 130.8,540 129,538C127.2,536 134,535.2 137,534C140,532.8 144.9,532.7 146.9,531C148.9,529.3 146.2,525 148.8,524Z"/>
<path fill="#d06000" d="M196,559.5L200.5,560.5L200.5,571L195.5,571.5Z"/>
<path fill="#ffffff" d="M112,529.8C114.8,531.5 122.9,536.7 129,540C135.1,543.3 141.9,547 148.8,549.8C155.7,552.6 162.7,555.1 170.6,556.7C178.5,558.4 192.1,559.2 196.4,559.7L195.6,571.5C191.4,571.2 178.4,571.2 170.6,569.6C162.8,568 155.7,564.8 148.8,561.7C141.9,558.6 135,554.4 129,550.8C123,547.2 115.7,542 113,540.3Z"/></g></g>
<g clip-path="url(#cpd)"><g filter="url(#b15)"><rect x="700" y="340" width="640" height="300" fill="#44ff00"/>
<path fill="#88ff00" d="M730,452C742.5,452.5 780,454.5 805,455C830,455.5 857.2,456.3 880,455C902.8,453.7 930,444.5 942,447C954,449.5 947.8,461.2 952,470C956.2,478.8 960.7,491.7 967,500C973.3,508.3 980.8,514.2 990,520C999.2,525.8 1016.7,532.5 1022,535L1100,480L1165,432L1160,415L1140,395L1140,340L730,340Z"/>
<path fill="#88ff00" d="M1130,340C1131.7,344.2 1135,359 1140,365C1145,371 1153.8,373.3 1160,376C1166.2,378.7 1172.8,379.2 1177,381C1181.2,382.8 1177.6,381.4 1185,386.6C1192.4,391.8 1209.3,405.9 1221.5,412C1233.7,418.1 1241.6,420.3 1258,423C1274.4,425.7 1309.7,427.2 1320,428L1320,340Z"/>
<path fill="#88ff00" d="M1150,420C1152.8,422.3 1160.8,427.3 1166.6,434C1172.4,440.7 1178.9,449.7 1185,460C1191.1,470.3 1198.2,483.8 1203,496C1207.8,508.2 1212.7,522 1214,533C1215.3,544 1213.7,554.2 1211,562C1208.3,569.8 1204.8,576.2 1198,580C1191.2,583.8 1178,586.3 1170,585C1162,583.7 1157.5,574.2 1150,572C1142.5,569.8 1133.3,571 1125,572C1116.7,573 1108.3,577.2 1100,578C1091.7,578.8 1083.3,578 1075,577C1066.7,576 1056.7,574.8 1050,572C1043.3,569.2 1039.7,565.3 1035,560C1030.3,554.7 1024.2,543.3 1022,540L1100,480Z"/>
<path fill="#00ff00" d="M730,517C742.5,518.5 780,524.5 805,526C830,527.5 855,525.3 880,526C905,526.7 934.2,528.5 955,530C975.8,531.5 993.3,532.5 1005,535C1016.7,537.5 1019.2,540 1025,545C1030.8,550 1031.7,559.5 1040,565C1048.3,570.5 1060.8,576.3 1075,578C1089.2,579.7 1112.5,574.7 1125,575C1137.5,575.3 1142.5,575.8 1150,580C1157.5,584.2 1165.7,590 1170,600C1174.3,610 1175,633.3 1176,640L730,640Z"/></g><g filter="url(#b2)"><path fill="#00ff00" d="M952,432C951.7,427.5 956.2,420.7 960,415C963.8,409.3 966.7,404.3 975,398C983.3,391.7 999.2,381.7 1010,377C1020.8,372.3 1029.2,370.5 1040,370C1050.8,369.5 1063.3,373.7 1075,374C1086.7,374.3 1099.2,371 1110,372C1120.8,373 1130,376 1140,380C1150,384 1162.3,390.7 1170,396C1177.7,401.3 1182.7,407.3 1186,412C1189.3,416.7 1191,421.3 1190,424C1189,426.7 1184,428 1180,428C1176,428 1171,426.7 1166,424C1161,421.3 1156.8,415.5 1150,412C1143.2,408.5 1135,405 1125,403C1115,401 1104.7,400.8 1090,400C1075.3,399.2 1050.7,396.7 1037,398C1023.3,399.3 1015.8,403.7 1008,408C1000.2,412.3 995.5,419 990,424C984.5,429 979.7,435 975,438C970.3,441 965.8,443 962,442C958.2,441 952.3,436.5 952,432Z"/>
<path fill="#00ff00" d="M1010,350C989.2,354.2 1010,369.2 1015,375C1020,380.8 1029.2,382.8 1040,385C1050.8,387.2 1066.7,388 1080,388C1093.3,388 1109.2,387.2 1120,385C1130.8,382.8 1141.7,380.8 1145,375C1148.3,369.2 1162.5,354.2 1140,350C1117.5,345.8 1030.8,345.8 1010,350Z"/></g><g filter="url(#b15)"><path fill="#c0ff00" d="M730,404C740.3,404.3 773.3,404.7 792,406C810.7,407.3 825.3,411.3 842,412C858.7,412.7 877.3,412 892,410C906.7,408 917.5,405 930,400C942.5,395 954.5,386.7 967,380C979.5,373.3 995.8,365 1005,360C1014.2,355 1019.2,351.7 1022,350L1022,340L730,340Z"/>
<path fill="#c0ff00" d="M1140,350C1144.2,352.7 1155,361.8 1165,366C1175,370.2 1185.8,372.7 1200,375C1214.2,377.3 1230,379 1250,380C1270,381 1308.3,380.8 1320,381L1320,340L1140,340Z"/>
<path fill="#c0ff00" d="M1076,394C1066,394 1055.4,397.4 1045,401C1034.6,404.6 1023.4,408.9 1013.7,415.8C1004,422.8 993.3,433.8 987,442.7C980.7,451.6 978.2,460.9 976,469.5C973.8,478.1 972.5,487 974,494.6C975.5,502.2 979.8,509.6 985,515C990.2,520.4 998.8,524 1005,527C1011.2,530 1016.2,528.3 1022,533C1027.8,537.7 1031.2,549.7 1040,555C1048.8,560.3 1060.8,564.2 1075,565C1089.2,565.8 1110.5,563.8 1125,560C1139.5,556.2 1152.8,549.2 1162,542C1171.2,534.8 1176.7,524.9 1180,517C1183.3,509.1 1182.3,502.5 1182,494.6C1181.7,486.7 1181.1,478.1 1178.4,469.5C1175.7,460.9 1172.6,451.1 1166,442.7C1159.4,434.3 1149.2,426.3 1139,419.4C1128.8,412.4 1115.5,405.2 1105,401C1094.5,396.8 1086,394 1076,394Z"/>
<path fill="#fcfc00" d="M827,350C829.5,352.8 833.2,361.7 842,367C850.8,372.3 867.5,378.8 880,382C892.5,385.2 904.5,386.8 917,386C929.5,385.2 942.5,380.5 955,377C967.5,373.5 980.5,369.2 992,365C1003.5,360.8 1018.7,354.2 1024,352L1024,340L827,340Z"/>
<path fill="#fcfc00" d="M1148,350C1151.7,351.7 1161.3,357.9 1170,360C1178.7,362.1 1190,362.5 1200,362.5C1210,362.5 1221.3,362.1 1230,360C1238.7,357.9 1248.3,351.7 1252,350L1252,340L1148,340Z"/></g><g filter="url(#b2)"><path fill="#00ff88" d="M1012,640C991.5,635 1013.2,618 1017,610C1020.8,602 1027.8,596 1035,592C1042.2,588 1050,587 1060,586C1070,585 1085,585 1095,586C1105,587 1113.3,588.3 1120,592C1126.7,595.7 1131.7,600 1135,608C1138.3,616 1160.5,634.7 1140,640C1119.5,645.3 1032.5,645 1012,640Z"/></g><g filter="url(#b15)"><path fill="#00ff88" d="M1027,350C1026,352.5 1023.8,359.7 1021,365C1018.2,370.3 1011,378.3 1010,382C1009,385.7 1012,387.8 1015,387C1018,386.2 1023.8,379.1 1028,377C1032.2,374.9 1035.2,374.4 1040,374.5C1044.8,374.6 1050.3,376 1057,377.5C1063.7,379 1072,383.3 1080,383.5C1088,383.7 1098,380.1 1105,378.5C1112,376.9 1116.5,373.1 1122,374C1127.5,374.9 1133.7,380 1138,384C1142.3,388 1145.2,396 1148,398C1150.8,400 1155.3,399.3 1155,396C1154.7,392.7 1150.2,384 1146,378C1141.8,372 1133.3,364.7 1130,360C1126.7,355.3 1126.7,351.7 1126,350Z"/>
<path fill="#00fff0" d="M1028,350C1027.5,352.3 1026.8,359.5 1025,364C1023.2,368.5 1017.7,374.3 1017,377C1016.3,379.7 1018.7,380.8 1021,380C1023.3,379.2 1027.8,373.6 1031,372C1034.2,370.4 1035.7,370.3 1040,370.5C1044.3,370.7 1050.3,371.6 1057,373C1063.7,374.4 1072,378.8 1080,379C1088,379.2 1098,375.6 1105,374C1112,372.4 1116.8,368.7 1122,369.5C1127.2,370.3 1132.2,375.6 1136,379C1139.8,382.4 1142.7,388.5 1145,390C1147.3,391.5 1150.5,390.5 1150,388C1149.5,385.5 1145.7,380 1142,375C1138.3,370 1130.8,362.2 1128,358C1125.2,353.8 1125.5,351.3 1125,350Z"/></g><g filter="url(#b1)"><path fill="#ffaa00" d="M887,350C892,352.7 905.7,362.8 917,366C928.3,369.2 942.5,370 955,369C967.5,368 982.5,363.2 992,360C1001.5,356.8 1008.7,351.7 1012,350L1012,340L887,340Z"/>
<path fill="#ff6a00" d="M935,350C937.5,351.5 943.3,357.3 950,359C956.7,360.7 966.3,361.5 975,360C983.7,358.5 997.5,351.7 1002,350L1002,340L935,340Z"/>
<path fill="#ffaa00" d="M1157,350C1160,351.1 1167.8,356.5 1175,356.5C1182.2,356.5 1195.8,351.1 1200,350L1200,340L1157,340Z"/>
<path fill="#0055ff" d="M1029,350C1029.8,352.7 1029.3,362.9 1034,366C1038.7,369.1 1049.3,367.1 1057,368.5C1064.7,369.9 1072,374.3 1080,374.5C1088,374.7 1097.3,371.2 1105,369.5C1112.7,367.8 1122.8,367.2 1126,364C1129.2,360.8 1124.3,352.3 1124,350Z"/>
<path fill="#0000ff" d="M1030,350C1031.2,352.4 1032.5,361.8 1037,364.5C1041.5,367.2 1049.8,364.8 1057,366C1064.2,367.2 1072,371.8 1080,372C1088,372.2 1097.5,368.7 1105,367C1112.5,365.3 1122.2,364.8 1125,362C1127.8,359.2 1122.5,352 1122,350Z"/>
<path fill="#00fff0" d="M1035,640C1021.3,634.7 1034.7,614.8 1038,608C1041.3,601.2 1044.7,600.5 1055,599C1065.3,597.5 1090,597.8 1100,599C1110,600.2 1111.7,599.2 1115,606C1118.3,612.8 1133.3,634.3 1120,640C1106.7,645.7 1048.7,645.3 1035,640Z"/>
<path fill="#00aaff" d="M1042,640C1030.7,635 1042.3,616 1045,610C1047.7,604 1049.2,605 1058,604C1066.8,603 1089.3,603 1098,604C1106.7,605 1107.5,604 1110,610C1112.5,616 1124.3,635 1113,640C1101.7,645 1053.3,645 1042,640Z"/>
<path fill="#0055ff" d="M1047,640C1037.2,635.8 1046.8,620.2 1049,615C1051.2,609.8 1052.3,610 1060,609C1067.7,608 1087.5,608.2 1095,609C1102.5,609.8 1102.8,608.8 1105,614C1107.2,619.2 1117.7,635.7 1108,640C1098.3,644.3 1056.8,644.2 1047,640Z"/>
<path fill="#0000ff" d="M1055,640C1047.2,636.7 1055.3,624 1057,620C1058.7,616 1058.7,616.7 1065,616C1071.3,615.3 1088.8,615.3 1095,616C1101.2,616.7 1100.5,616 1102,620C1103.5,624 1111.8,636.7 1104,640C1096.2,643.3 1062.8,643.3 1055,640Z"/>
<path fill="#fcfc00" d="M1076.4,403C1067.5,402.7 1057.6,406.4 1049.5,410C1041.4,413.6 1035.5,418.5 1028,424.8C1020.5,431.1 1010.8,440.6 1004.8,448C998.8,455.4 994.5,462.3 992,469.5C989.5,476.7 989.2,484.2 990,491C990.8,497.8 993.7,504.8 997,510C1000.3,515.2 1005.8,518.7 1010,522C1014.2,525.3 1017.8,527 1022,530C1026.2,533 1029.5,537 1035,540C1040.5,543 1048.3,546 1055,548C1061.7,550 1067.5,551.8 1075,552C1082.5,552.2 1091.7,551 1100,549C1108.3,547 1118.3,543.7 1125,540C1131.7,536.3 1135.8,531.2 1140,527C1144.2,522.8 1147.2,519.5 1150,515C1152.8,510.5 1155.2,504 1157,500C1158.8,496 1159.7,496.1 1160.5,491C1161.3,485.9 1163.2,476.7 1162,469.5C1160.8,462.3 1158.7,454.9 1153.4,448C1148.1,441.1 1138.4,434 1130,428C1121.6,422 1111.9,416.2 1103,412C1094.1,407.8 1085.3,403.3 1076.4,403Z"/>
<path fill="#ffbc00" d="M1071,419.4C1064.2,422 1056.1,427.8 1049.5,433.7C1042.9,439.6 1037.6,447.8 1031.6,455C1025.6,462.2 1017.9,470.7 1013.7,476.7C1009.5,482.7 1007.5,485.8 1006.5,491C1005.5,496.2 1006.4,503 1008,508C1009.6,513 1013.5,517.4 1016,521C1018.5,524.6 1020.3,527.7 1023,529.5C1025.7,531.3 1027.5,530.9 1032,532C1036.5,533.1 1042.8,535.2 1050,536C1057.2,536.8 1067.5,537.5 1075,537C1082.5,536.5 1088.8,535 1095,533C1101.2,531 1106.5,528.5 1112,525C1117.5,521.5 1123.3,516.7 1128,512C1132.7,507.3 1136.7,501 1140,497C1143.3,493 1145.8,490.8 1148,488C1150.2,485.2 1152.8,484 1153.4,480C1154,476 1154.6,469.9 1151.6,464C1148.6,458.1 1142.1,451 1135.5,444.5C1128.9,438 1119.6,429.2 1112,424.8C1104.4,420.4 1096.8,418.9 1090,418C1083.2,417.1 1077.8,416.8 1071,419.4Z"/>
<path fill="#ff8800" d="M1089,414C1084.8,415.2 1081.6,426.9 1078,433.7C1074.4,440.5 1072.7,448.4 1067.4,455C1062.1,461.6 1052.6,467.6 1046,473C1039.4,478.4 1032.5,482.9 1028,487.4C1023.5,491.9 1020.8,495.9 1019,500C1017.2,504.1 1016.7,508.2 1017,512C1017.3,515.8 1019.9,520.2 1021,523C1022.1,525.8 1022,528 1023.5,529C1025,530 1026.4,529.2 1030,529C1033.6,528.8 1039.7,528.7 1045,528C1050.3,527.3 1056.2,526.3 1062,525C1067.8,523.7 1073.7,522.2 1080,520C1086.3,517.8 1093.7,514.8 1100,512C1106.3,509.2 1113,505.8 1118,503C1123,500.2 1126,497.3 1130,495C1134,492.7 1139.3,492.1 1142,489C1144.7,485.9 1146.5,481.2 1146,476.7C1145.5,472.2 1143.2,467.1 1139,462C1134.8,456.9 1127,451.9 1121,446C1115,440.1 1108.3,431.9 1103,426.6C1097.7,421.3 1093.2,412.8 1089,414Z"/>
<path fill="#ff4400" d="M1045,517C1046.7,514.7 1054.2,510.2 1060,507C1065.8,503.8 1073.3,500.3 1080,498C1086.7,495.7 1091.7,494.3 1100,493C1108.3,491.7 1126.7,489.7 1130,490C1133.3,490.3 1125,493.2 1120,495C1115,496.8 1106.7,498.7 1100,501C1093.3,503.3 1086.3,506.3 1080,509C1073.7,511.7 1067,515 1062,517C1057,519 1052.8,521 1050,521C1047.2,521 1043.3,519.3 1045,517Z"/>
<path fill="#ff4400" d="M1139,479L1144.4,480L1144.4,489L1139,491Z"/>
<path fill="#ffffff" d="M1021.5,518C1023.8,516 1030.2,509.7 1035,506C1039.8,502.3 1044.7,498.8 1050,496C1055.3,493.2 1060.8,491.2 1067,489C1073.2,486.8 1079.5,484.2 1087,482.5C1094.5,480.8 1103.3,479.6 1112,478.8C1120.7,478 1134.5,477.8 1139,477.6L1139,492C1134.5,492.1 1120.2,492.4 1112,492.8C1103.8,493.2 1096.7,493.5 1090,494.5C1083.3,495.5 1077.8,497.2 1072,499C1066.2,500.8 1060.3,502.7 1055,505.5C1049.700,508.3 1045.1,512 1040,516C1034.9,520 1027.1,527.2 1024.5,529.5Z"/></g></g>
<g fill="#141414" filter="url(#bt)">
<g>
<rect x="590.6" y="51.5" width="16.6" height="25.8" fill="#ff0a0a"/>
<rect x="590.6" y="77" width="16.6" height="17.3" fill="#ff5a00"/>
<rect x="590.6" y="93.9" width="16.6" height="17.3" fill="#ffae00"/>
<rect x="590.6" y="110.9" width="16.6" height="17.3" fill="#f2f400"/>
<rect x="590.6" y="127.9" width="16.6" height="17.3" fill="#90f000"/>
<rect x="590.6" y="144.8" width="16.6" height="17.3" fill="#24ee00"/>
<rect x="590.6" y="161.800" width="16.6" height="17.3" fill="#00ee28"/>
<rect x="590.6" y="178.8" width="16.6" height="17.3" fill="#00f894"/>
<rect x="590.6" y="195.7" width="16.6" height="17.3" fill="#00f0f0"/>
<rect x="590.6" y="212.7" width="16.6" height="17.3" fill="#00a8ff"/>
<rect x="590.6" y="229.7" width="16.6" height="17.3" fill="#0050ff"/>
<rect x="590.6" y="246.6" width="16.6" height="25.8" fill="#0000ff"/>
</g>
<text class="cjk" x="590.9 624.8" y="34.1" font-size="32">应力</text>
<text transform="translate(657.3,33.5) scale(1.0,1)" font-size="33.0">/MPa</text>
<text transform="translate(613.2,73.4) scale(1.0,1)" font-size="33.0"><tspan dy="-1.6">−</tspan><tspan dy="1.6">1.25</tspan></text>
<text transform="translate(613.2,106.8) scale(1.0,1)" font-size="33.0"><tspan dy="-1.6">−</tspan><tspan dy="1.6">5.00</tspan></text>
<text transform="translate(613.2,140) scale(1.0,1)" font-size="33.0"><tspan dy="-1.6">−</tspan><tspan dy="1.6">10.00</tspan></text>
<text transform="translate(613.2,173.2) scale(1.0,1)" font-size="33.0"><tspan dy="-1.6">−</tspan><tspan dy="1.6">15.00</tspan></text>
<text transform="translate(613.2,206.3) scale(1.0,1)" font-size="33.0"><tspan dy="-1.6">−</tspan><tspan dy="1.6">20.00</tspan></text>
<text transform="translate(613.2,239.3) scale(1.0,1)" font-size="33.0"><tspan dy="-1.6">−</tspan><tspan dy="1.6">25.00</tspan></text>
<text transform="translate(613.2,272.6) scale(1.0,1)" font-size="33.0"><tspan dy="-1.6">−</tspan><tspan dy="1.6">30.00</tspan></text>
<g>
<rect x="1320.8" y="55.5" width="16.6" height="25.7" fill="#ff0a0a"/>
<rect x="1320.8" y="80.9" width="16.6" height="17.2" fill="#ff5a00"/>
<rect x="1320.8" y="97.9" width="16.6" height="17.2" fill="#ffae00"/>
<rect x="1320.8" y="114.8" width="16.6" height="17.2" fill="#f2f400"/>
<rect x="1320.8" y="131.8" width="16.6" height="17.2" fill="#90f000"/>
<rect x="1320.8" y="148.7" width="16.6" height="17.2" fill="#24ee00"/>
<rect x="1320.8" y="165.6" width="16.6" height="17.2" fill="#00ee28"/>
<rect x="1320.8" y="182.6" width="16.6" height="17.2" fill="#00f894"/>
<rect x="1320.8" y="199.5" width="16.6" height="17.2" fill="#00f0f0"/>
<rect x="1320.8" y="216.5" width="16.6" height="17.2" fill="#00a8ff"/>
<rect x="1320.8" y="233.4" width="16.6" height="17.2" fill="#0050ff"/>
<rect x="1320.8" y="250.4" width="16.6" height="25.7" fill="#0000ff"/>
</g>
<text class="cjk" x="1312.6 1346.1" y="35.3" font-size="31.8">应力</text>
<text transform="translate(1379.1,36.1) scale(1.0,1)" font-size="33.2">/MPa</text>
<text transform="translate(1344.8,75.4) scale(1.0,1)" font-size="33.0"><tspan dy="-1.6">−</tspan><tspan dy="1.6">1.50</tspan></text>
<text transform="translate(1344.8,108.5) scale(1.0,1)" font-size="33.0"><tspan dy="-1.6">−</tspan><tspan dy="1.6">5.00</tspan></text>
<text transform="translate(1344.8,141.6) scale(1.0,1)" font-size="33.0"><tspan dy="-1.6">−</tspan><tspan dy="1.6">10.00</tspan></text>
<text transform="translate(1344.8,174.7) scale(1.0,1)" font-size="33.0"><tspan dy="-1.6">−</tspan><tspan dy="1.6">15.00</tspan></text>
<text transform="translate(1344.8,207.8) scale(1.0,1)" font-size="33.0"><tspan dy="-1.6">−</tspan><tspan dy="1.6">20.00</tspan></text>
<text transform="translate(1344.8,240.7) scale(1.0,1)" font-size="33.0"><tspan dy="-1.6">−</tspan><tspan dy="1.6">25.00</tspan></text>
<text transform="translate(1344.8,274.3) scale(1.0,1)" font-size="33.0"><tspan dy="-1.6">−</tspan><tspan dy="1.6">28.48</tspan></text>
<g>
<rect x="590.4" y="403" width="16.6" height="25.9" fill="#ff0a0a"/>
<rect x="590.4" y="428.6" width="16.6" height="17.4" fill="#ff5a00"/>
<rect x="590.4" y="445.7" width="16.6" height="17.4" fill="#ffae00"/>
<rect x="590.4" y="462.7" width="16.6" height="17.4" fill="#f2f400"/>
<rect x="590.4" y="479.8" width="16.6" height="17.4" fill="#90f000"/>
<rect x="590.4" y="496.8" width="16.6" height="17.4" fill="#24ee00"/>
<rect x="590.4" y="513.9" width="16.6" height="17.4" fill="#00ee28"/>
<rect x="590.4" y="531" width="16.6" height="17.4" fill="#00f894"/>
<rect x="590.4" y="548" width="16.6" height="17.4" fill="#00f0f0"/>
<rect x="590.4" y="565.1" width="16.6" height="17.4" fill="#00a8ff"/>
<rect x="590.4" y="582.1" width="16.6" height="17.4" fill="#0050ff"/>
<rect x="590.4" y="599.2" width="16.6" height="25.9" fill="#0000ff"/>
</g>
<text class="cjk" x="589.9 623.8" y="379.6" font-size="32">应力</text>
<text transform="translate(656.3,379) scale(1.0,1)" font-size="33.5">/MPa</text>
<text transform="translate(616.3,418.9) scale(1.0,1)" font-size="33.0">4.25</text>
<text transform="translate(616.3,444.6) scale(1.0,1)" font-size="33.0">0</text>
<text transform="translate(615.5,470.2) scale(1.0,1)" font-size="33.0"><tspan dy="-1.6">−</tspan><tspan dy="1.6">5.0</tspan></text>
<text transform="translate(615.5,495.8) scale(1.0,1)" font-size="33.0"><tspan dy="-1.6">−</tspan><tspan dy="1.6">10.0</tspan></text>
<text transform="translate(615.5,521.5) scale(1.0,1)" font-size="33.0"><tspan dy="-1.6">−</tspan><tspan dy="1.6">15.0</tspan></text>
<text transform="translate(615.5,547.3) scale(1.0,1)" font-size="33.0"><tspan dy="-1.6">−</tspan><tspan dy="1.6">20.0</tspan></text>
<text transform="translate(615.5,573.2) scale(1.0,1)" font-size="33.0"><tspan dy="-1.6">−</tspan><tspan dy="1.6">25.0</tspan></text>
<text transform="translate(615.5,598.6) scale(1.0,1)" font-size="33.0"><tspan dy="-1.6">−</tspan><tspan dy="1.6">30.0</tspan></text>
<text transform="translate(615.5,625.6) scale(1.0,1)" font-size="33.0"><tspan dy="-1.6">−</tspan><tspan dy="1.6">32.89</tspan></text>
<g>
<rect x="1323.4" y="398.3" width="16.9" height="25.7" fill="#ff0a0a"/>
<rect x="1323.4" y="423.7" width="16.9" height="17.2" fill="#ff5a00"/>
<rect x="1323.4" y="440.6" width="16.9" height="17.2" fill="#ffae00"/>
<rect x="1323.4" y="457.6" width="16.9" height="17.2" fill="#f2f400"/>
<rect x="1323.4" y="474.5" width="16.9" height="17.2" fill="#90f000"/>
<rect x="1323.4" y="491.5" width="16.9" height="17.2" fill="#24ee00"/>
<rect x="1323.4" y="508.4" width="16.9" height="17.2" fill="#00ee28"/>
<rect x="1323.4" y="525.3" width="16.9" height="17.2" fill="#00f894"/>
<rect x="1323.4" y="542.3" width="16.9" height="17.2" fill="#00f0f0"/>
<rect x="1323.4" y="559.2" width="16.9" height="17.2" fill="#00a8ff"/>
<rect x="1323.4" y="576.2" width="16.9" height="17.2" fill="#0050ff"/>
<rect x="1323.4" y="593.1" width="16.9" height="25.7" fill="#0000ff"/>
</g>
<text class="cjk" x="1313.1 1346.6" y="379.1" font-size="31.8">应力</text>
<text transform="translate(1379.1,379.6) scale(1.0,1)" font-size="33.2">/MPa</text>
<text transform="translate(1350.5,417.5) scale(1.0,1)" font-size="33.0">8.76</text>
<text transform="translate(1348.5,443.2) scale(1.0,1)" font-size="33.0"><tspan dy="-1.6">−</tspan><tspan dy="1.6">2.50</tspan></text>
<text transform="translate(1348.5,469.2) scale(1.0,1)" font-size="33.0"><tspan dy="-1.6">−</tspan><tspan dy="1.6">7.50</tspan></text>
<text transform="translate(1348.5,494.9) scale(1.0,1)" font-size="33.0"><tspan dy="-1.6">−</tspan><tspan dy="1.6">12.50</tspan></text>
<text transform="translate(1348.5,520.6) scale(1.0,1)" font-size="33.0"><tspan dy="-1.6">−</tspan><tspan dy="1.6">17.50</tspan></text>
<text transform="translate(1348.5,546.1) scale(1.0,1)" font-size="33.0"><tspan dy="-1.6">−</tspan><tspan dy="1.6">22.50</tspan></text>
<text transform="translate(1348.5,572.4) scale(1.0,1)" font-size="33.0"><tspan dy="-1.6">−</tspan><tspan dy="1.6">27.50</tspan></text>
<text transform="translate(1348.5,598) scale(1.0,1)" font-size="33.0"><tspan dy="-1.6">−</tspan><tspan dy="1.6">32.50</tspan></text>
<text transform="translate(1348.5,623.6) scale(1.0,1)" font-size="33.0"><tspan dy="-1.6">−</tspan><tspan dy="1.6">37.50</tspan></text>
<text transform="translate(168,320.7) scale(1.02,1)" font-size="33.0">(a)</text>
<text class="cjk" x="223.7 257 290.3 323.6 356.9 390.2 423.5" y="320.5" font-size="32">过向斜垂直应力</text>
<text transform="translate(898.7,322.5) scale(1.02,1)" font-size="33.0">(b)</text>
<text class="cjk" x="957.1 990.4 1023.7 1057 1090.3 1123.6 1156.9" y="322.3" font-size="32">过背斜垂直应力</text>
<text transform="translate(168,670.5) scale(1.02,1)" font-size="33.0">(c)</text>
<text class="cjk" x="224 257.3 290.6 323.9 357.2 390.5 423.8" y="670.3" font-size="32">过向斜水平应力</text>
<text transform="translate(901.1,677.9) scale(1.02,1)" font-size="33.0">(d)</text>
<text class="cjk" x="958.2 991.5 1024.8 1058.1 1091.4 1124.7 1158" y="677.7" font-size="32">过背斜水平应力</text>
</g>
</svg>
</body></html>
